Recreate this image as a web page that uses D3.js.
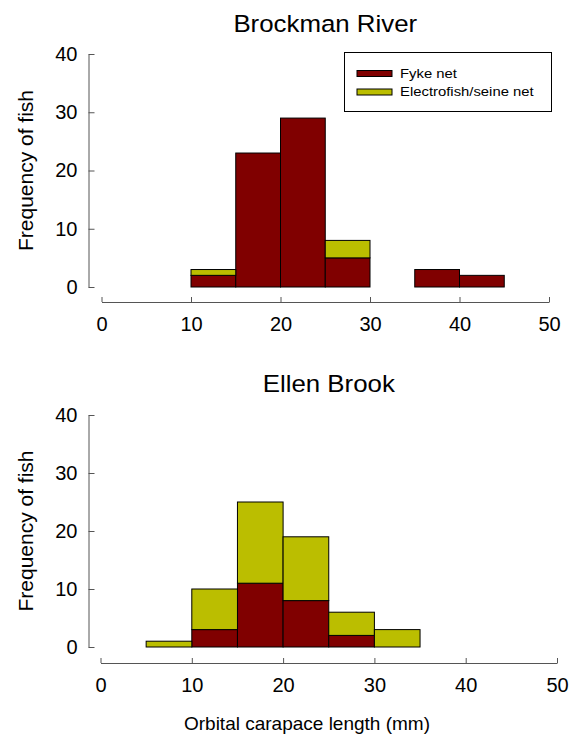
<!DOCTYPE html>
<html>
<head>
<meta charset="utf-8">
<script src="https://cdn.jsdelivr.net/npm/d3@7"></script>
<style>
  body { margin: 0; background: #fff; }
  text { font-family: Arial, "Liberation Sans", sans-serif; fill: #000; }
</style>
</head>
<body>
<svg></svg>
<script>
let width = 573, height = 738;

// bins of orbital carapace length (mm), lower edge of each 5 mm bin
let binStarts = [5, 10, 15, 20, 25, 30, 35, 40];
let binWidth = 5;
let seriesNames = ["Fyke net", "Electrofish/seine net"];

let brockmanFyke = [0, 2, 23, 29, 5, 0, 3, 2];
let brockmanElectro = [0, 1, 0, 0, 3, 0, 0, 0];
let ellenFyke = [0, 3, 11, 8, 2, 0, 0, 0];
let ellenElectro = [1, 7, 14, 11, 4, 3, 0, 0];

let xTicks = [0, 10, 20, 30, 40, 50];
let yTicks = [0, 10, 20, 30, 40];

let colors = ["#800000", "#bbbe00"];

let svg = d3.select("svg")
    .attr("width", width)
    .attr("height", height);

let panels = [
    { title: "Brockman River", fyke: brockmanFyke, electro: brockmanElectro,
      x0: 101.5, x1: 549, yTop: 54, yBottom: 287, axisY: 302, axisX: 88.5, titleY: 32, legend: true, xlabel: false },
    { title: "Ellen Brook", fyke: ellenFyke, electro: ellenElectro,
      x0: 100.5, x1: 557, yTop: 415, yBottom: 647, axisY: 663, axisX: 88.5, titleY: 392, legend: false, xlabel: true }
];

panels.forEach(p => {
    let x = d3.scaleLinear().domain([0, 50]).range([p.x0, p.x1]);
    let y = d3.scaleLinear().domain([0, 40]).range([p.yBottom, p.yTop]);

    let rows = binStarts.map((b, i) => ({ bin: b, fyke: p.fyke[i], electro: p.electro[i] }));
    let stacked = d3.stack().keys(["fyke", "electro"])(rows);

    let g = svg.append("g");

    // bars
    g.selectAll("g.series")
        .data(stacked)
        .enter().append("g")
        .attr("class", "series")
        .attr("fill", (d, i) => colors[i])
        .selectAll("rect")
        .data(d => d.filter(s => s[1] - s[0] > 0))
        .enter().append("rect")
        .attr("x", d => x(d.data.bin))
        .attr("width", d => x(d.data.bin + binWidth) - x(d.data.bin))
        .attr("y", d => y(d[1]))
        .attr("height", d => y(d[0]) - y(d[1]))
        .attr("stroke", "#000")
        .attr("stroke-width", 1);

    // x axis (offset below the bars)
    let xAxis = g.append("g")
        .attr("transform", "translate(0," + p.axisY + ")")
        .call(d3.axisBottom(x).tickValues(xTicks).tickSizeInner(-5).tickSizeOuter(0).tickPadding(15));

    // y axis
    let yAxis = g.append("g")
        .attr("transform", "translate(" + p.axisX + ",0)")
        .call(d3.axisLeft(y).tickValues(yTicks).tickSizeInner(-6).tickSizeOuter(0).tickPadding(11));

    [xAxis, yAxis].forEach(a => {
        a.select(".domain").attr("stroke", "#555");
        a.selectAll(".tick line").attr("stroke", "#555");
        a.selectAll(".tick text")
            .style("font-size", "20px")
            .style("font-family", "Arial, 'Liberation Sans', sans-serif")
            .attr("fill", "#000");
    });

    // title (the original lettering is a little wide)
    let tx = (p.x0 + p.x1) / 2;
    g.append("text")
        .attr("transform", "translate(" + tx + "," + p.titleY + ") scale(1.1,1)")
        .attr("text-anchor", "middle")
        .style("font-size", "23.5px")
        .text(p.title);

    // y label
    g.append("text")
        .attr("transform", "translate(33," + (p.yTop + p.yBottom) / 2 + ") rotate(-90)")
        .attr("text-anchor", "middle")
        .style("font-size", "21px")
        .text("Frequency of fish");

    if (p.xlabel) {
        g.append("text")
            .attr("x", 307)
            .attr("y", 730)
            .attr("text-anchor", "middle")
            .style("font-size", "19px")
            .text("Orbital carapace length (mm)");
    }

    if (p.legend) {
        let legend = g.append("g").attr("id", "legend");
        legend.append("rect")
            .attr("x", 344.5)
            .attr("y", 52.5)
            .attr("width", 207)
            .attr("height", 59)
            .attr("fill", "#fff")
            .attr("stroke", "#000");

        let item = legend.selectAll(".legenditem")
            .data(seriesNames)
            .enter().append("g")
            .attr("class", "legenditem")
            .attr("transform", (d, i) => "translate(0," + i * 18.5 + ")");

        item.append("rect")
            .attr("x", 357)
            .attr("y", 70.5)
            .attr("width", 35)
            .attr("height", 6)
            .attr("fill", (d, i) => colors[i])
            .attr("stroke", "#000");

        item.append("text")
            .attr("transform", "translate(400,77.5) scale(1.1,1)")
            .style("font-size", "13.5px")
            .text(d => d);
    }
});
</script>
</body>
</html>
